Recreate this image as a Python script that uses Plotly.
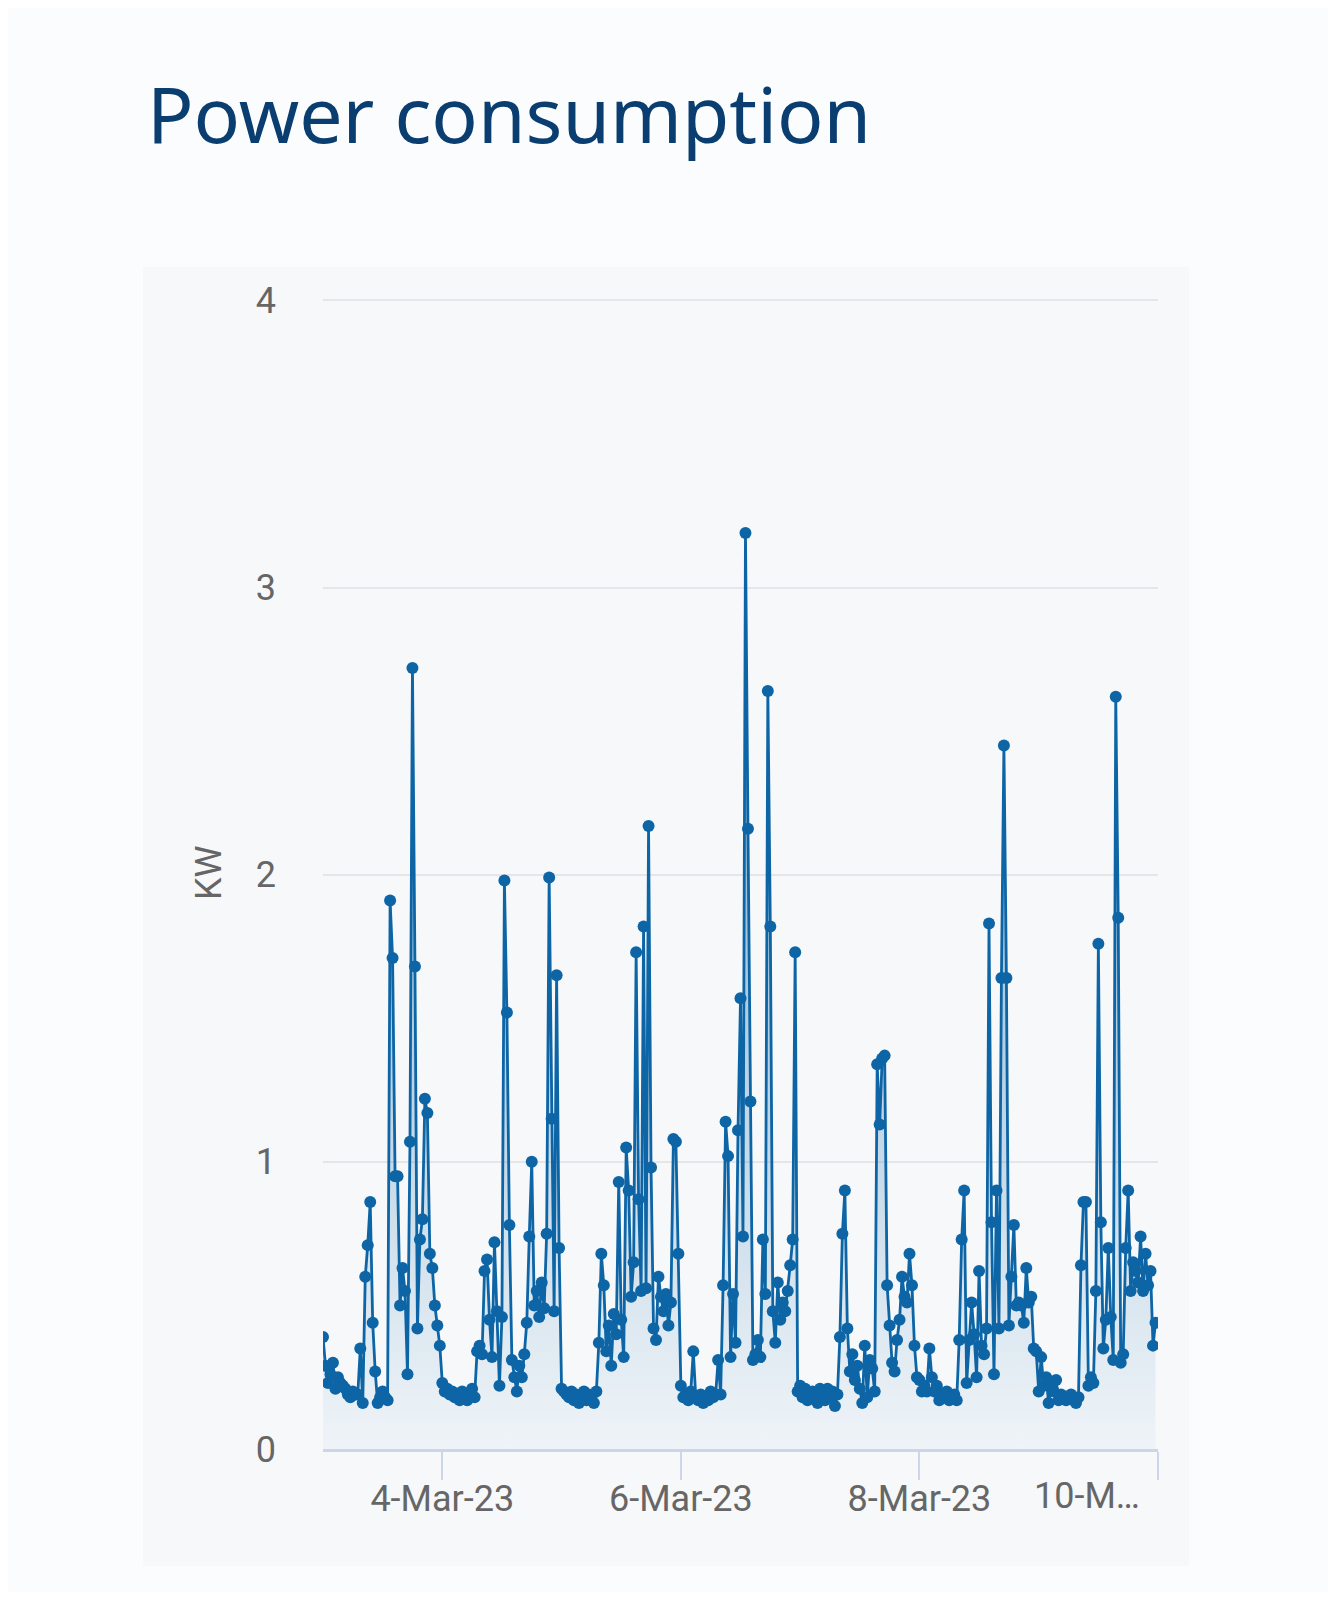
import pandas as pd
import plotly.graph_objects as go

# Half-hourly power readings (kW), one list per day
day_03 = [0.39, 0.29, 0.23, 0.26, 0.30, 0.21, 0.25, 0.23, 0.22, 0.21,
          0.19, 0.18, 0.20, 0.19, 0.19, 0.35, 0.16, 0.60, 0.71, 0.86,
          0.44, 0.27, 0.16, 0.18, 0.20, 0.18, 0.17, 1.91, 1.71, 0.95,
          0.95, 0.50, 0.63, 0.55, 0.26, 1.07, 2.72, 1.68, 0.42, 0.73,
          0.80, 1.22, 1.17, 0.68, 0.63, 0.50, 0.43, 0.36]
day_04 = [0.23, 0.20, 0.21, 0.19, 0.20, 0.18, 0.19, 0.17, 0.20, 0.18,
          0.17, 0.19, 0.21, 0.18, 0.34, 0.36, 0.33, 0.62, 0.66, 0.45,
          0.32, 0.72, 0.48, 0.22, 0.46, 1.98, 1.52, 0.78, 0.31, 0.25,
          0.20, 0.29, 0.25, 0.33, 0.44, 0.74, 1.00, 0.50, 0.55, 0.46,
          0.58, 0.49, 0.75, 1.99, 1.15, 0.48, 1.65, 0.70]
day_05 = [0.21, 0.20, 0.19, 0.18, 0.20, 0.17, 0.19, 0.16, 0.18, 0.20,
          0.17, 0.19, 0.18, 0.16, 0.20, 0.37, 0.68, 0.57, 0.34, 0.43,
          0.29, 0.47, 0.40, 0.93, 0.45, 0.32, 1.05, 0.90, 0.53, 0.65,
          1.73, 0.87, 0.55, 1.82, 0.56, 2.17, 0.98, 0.42, 0.38, 0.60,
          0.53, 0.48, 0.54, 0.43, 0.51, 1.08, 1.07, 0.68]
day_06 = [0.22, 0.18, 0.19, 0.17, 0.20, 0.34, 0.18, 0.17, 0.19, 0.16,
          0.18, 0.17, 0.20, 0.18, 0.19, 0.31, 0.19, 0.57, 1.14, 1.02,
          0.32, 0.54, 0.37, 1.11, 1.57, 0.74, 3.19, 2.16, 1.21, 0.31,
          0.33, 0.38, 0.32, 0.73, 0.54, 2.64, 1.82, 0.48, 0.37, 0.58,
          0.45, 0.51, 0.48, 0.55, 0.64, 0.73, 1.73, 0.20]
day_07 = [0.22, 0.18, 0.21, 0.17, 0.19, 0.20, 0.18, 0.16, 0.21, 0.19,
          0.17, 0.21, 0.18, 0.20, 0.15, 0.19, 0.39, 0.75, 0.90, 0.42,
          0.27, 0.33, 0.24, 0.29, 0.21, 0.16, 0.36, 0.18, 0.31, 0.28,
          0.20, 1.34, 1.13, 1.36, 1.37, 0.57, 0.43, 0.30, 0.27, 0.38,
          0.45, 0.60, 0.53, 0.51, 0.68, 0.57, 0.36, 0.25]
day_08 = [0.24, 0.20, 0.22, 0.20, 0.35, 0.25, 0.20, 0.22, 0.17, 0.19,
          0.18, 0.20, 0.17, 0.18, 0.19, 0.17, 0.38, 0.73, 0.90, 0.23,
          0.38, 0.51, 0.40, 0.25, 0.62, 0.36, 0.33, 0.42, 1.83, 0.79,
          0.26, 0.90, 0.42, 1.64, 2.45, 1.64, 0.43, 0.60, 0.78, 0.50,
          0.51, 0.50, 0.44, 0.63, 0.51, 0.53, 0.35, 0.34]
day_09 = [0.20, 0.32, 0.22, 0.25, 0.16, 0.22, 0.20, 0.24, 0.17, 0.19,
          0.18, 0.17, 0.18, 0.19, 0.17, 0.16, 0.18, 0.64, 0.86, 0.86,
          0.22, 0.25, 0.23, 0.55, 1.76, 0.79, 0.35, 0.45, 0.70, 0.46,
          0.31, 2.62, 1.85, 0.30, 0.33, 0.70, 0.90, 0.55, 0.65, 0.62,
          0.58, 0.74, 0.55, 0.68, 0.57, 0.62, 0.36, 0.44]

kw = day_03 + day_04 + day_05 + day_06 + day_07 + day_08 + day_09
times = pd.date_range("2023-03-03 00:00", periods=len(kw), freq="30min")

tick_vals = ["2023-03-04", "2023-03-06", "2023-03-08", "2023-03-10"]
tick_text = ["4-Mar-23", "6-Mar-23", "8-Mar-23", ""]
last_tick_label = "10-M…"
y_ticks = [0, 1, 2, 3, 4]

LINE = "#0d65a6"
GREY = "#666666"
AXIS = "#ccd6eb"

fig = go.Figure()
fig.add_trace(go.Scatter(
    x=times, y=kw, mode="lines+markers",
    line=dict(color=LINE, width=2.8),
    marker=dict(color=LINE, size=12),
    fill="tozeroy",
    fillgradient=dict(type="vertical", start=0, stop=3.0,
                      colorscale=[[0, "rgba(13,101,166,0.03)"],
                                  [1, "rgba(13,101,166,0.55)"]]),
    showlegend=False,
))

fig.update_layout(
    width=1320, height=1584,
    margin=dict(l=315, r=170, t=289, b=143),
    paper_bgcolor="#fbfcfd",
    plot_bgcolor="rgba(0,0,0,0)",
    font=dict(family="Roboto", size=36, color=GREY),
    shapes=[dict(type="rect", xref="paper", yref="paper",
                 x0=-0.2156, x1=1.0371, y0=-0.1016, y1=1.026,
                 fillcolor="#f6f8fa", line=dict(width=0), layer="below")],
    annotations=[
        dict(text="Power consumption", xref="paper", yref="paper",
             x=-0.2135, y=1.1589, xanchor="left", yanchor="middle",
             showarrow=False,
             font=dict(family="Noto Sans", size=77, color="#0a3d70")),
        dict(text="KW", xref="paper", yref="paper", x=-0.1365, y=0.5,
             textangle=-90, showarrow=False, xanchor="center", yanchor="middle",
             font=dict(family="Roboto", size=36, color=GREY)),
        dict(text=last_tick_label, xref="paper", yref="paper", x=0.915, y=-0.041,
             showarrow=False, xanchor="center", yanchor="middle",
             font=dict(family="Roboto", size=36, color=GREY)),
    ],
)

fig.update_xaxes(
    type="date", range=["2023-03-03 00:00", "2023-03-10 00:00"],
    tickvals=tick_vals, ticktext=tick_text,
    showgrid=False, showline=True, linecolor=AXIS, linewidth=3,
    ticks="outside", ticklen=28, tickwidth=2, tickcolor=AXIS,
    ticklabelstandoff=-12,
    tickfont=dict(family="Roboto", size=36, color=GREY),
    zeroline=False,
)
fig.update_yaxes(
    range=[0, 4.012], tickvals=y_ticks,
    showgrid=True, gridcolor="#e4e6ea", gridwidth=2,
    zeroline=False, showline=False, ticks="",
    ticklabelstandoff=46,
    tickfont=dict(family="Roboto", size=36, color=GREY),
)

fig.write_html("out.html")
